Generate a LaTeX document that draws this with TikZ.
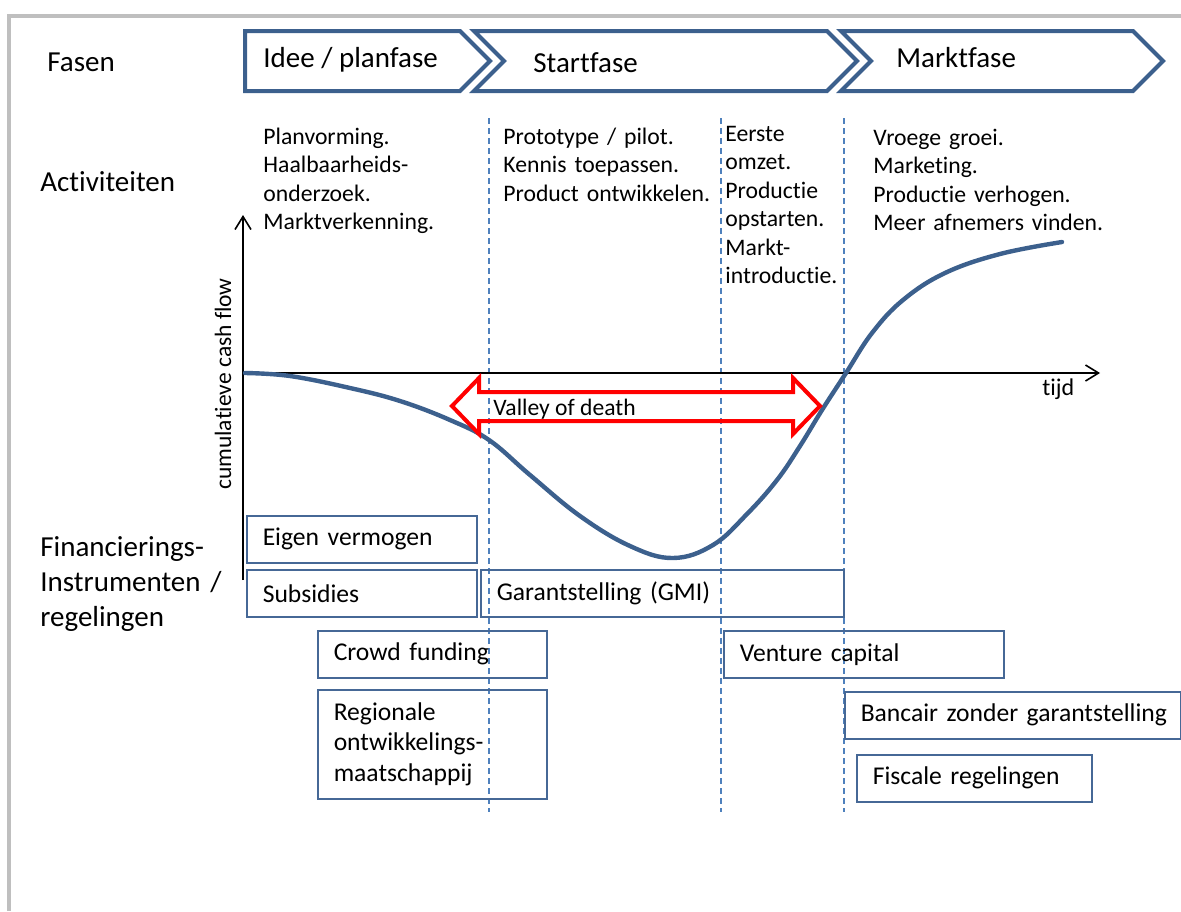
\documentclass[tikz,border=0pt]{standalone}
\usepackage{fontspec}
\setmainfont{Carlito}[Ligatures={NoCommon}]
\usetikzlibrary{arrows.meta,positioning}
\definecolor{fasblauw}{RGB}{60,96,141}
\definecolor{lijnblauw}{RGB}{79,129,189}
\definecolor{kaderblauw}{RGB}{70,104,150}
\definecolor{rand}{RGB}{191,191,191}
\tikzset{
    kop/.style={font=\fontsize{14.5}{17.5}\selectfont, anchor=base west, inner sep=0pt},
    fase/.style={draw=fasblauw, line width=2pt, line join=miter},
    actie/.style={font=\fontsize{11.85}{14.25}\selectfont, align=left, text width=130pt,
                  anchor=base west, inner sep=0pt},
    regeling/.style={draw=kaderblauw, line width=0.75pt, anchor=north west,
                     inner xsep=8pt, inner ysep=0pt, align=left, minimum height=23.5pt,
                     font=\fontsize{12.8}{15.3}\selectfont},
    grens/.style={draw=lijnblauw, line width=0.6pt, dash pattern=on 3pt off 2pt},
    as/.style={line width=0.8pt, -{Straight Barb[length=6.5pt,width=8pt]}},
    dal/.style={draw=red, line width=2pt, line join=miter},
    kromme/.style={draw=fasblauw, line width=2.2pt, line cap=round},
    }
\begin{document}
\begin{tikzpicture}[x=0.5pt,y=-0.5pt]
    \useasboundingbox (0,0) rectangle (1181,911);
    \draw[rand, line width=1.75pt] (9,911) -- (9,16) -- (1181,16);

    \draw[fase] (245,31) -- (460,31) -- (490,61) -- (460,91) -- (245,91) -- cycle;
    \draw[fase] (474,31) -- (827,31) -- (857,61) -- (827,91) -- (474,91) -- (504,61) -- cycle;
    \draw[fase] (841,31) -- (1133,31) -- (1163,61) -- (1133,91) -- (841,91) -- (871,61) -- cycle;
    \node[kop] (fasen) at (47,71) {Fasen};
    \node[kop] (idee) at (263,67) {Idee / planfase};
    \node[kop] (start) at (533,72) {Startfase};
    \node[kop] (markt) at (896,67) {Marktfase};

    \node[kop] (activiteiten) at (40,191) {Activiteiten};
    \node[actie] (plan) at (263,144) {Planvorming.\\Haalbaarheids-\\onderzoek.\\Marktverkenning.};
    \node[actie] (proto) at (503,144) {Prototype / pilot.\\Kennis toepassen.\\Product ontwikkelen.};
    \node[actie] (omzet) at (725,141) {Eerste\\omzet.\\Productie\\opstarten.\\Markt-\\introductie.};
    \node[actie] (groei) at (873,145) {Vroege groei.\\Marketing.\\Productie verhogen.\\Meer afnemers vinden.};

    \node[kop, align=left, text width=120pt] (financiering) at (40,556)
        {Financierings-\\Instrumenten /\\regelingen};

    \draw[grens] (489,118) -- (489,812);
    \draw[grens] (721,118) -- (721,812);
    \draw[grens] (844,118) -- (844,812);

    \coordinate (oorsprong) at (243,373);
    \coordinate (ytop) at (243,215);
    \coordinate (ybodem) at (243,580);
    \coordinate (xeind) at (1100,373);
    \draw[as] (ybodem) -- (ytop);
    \draw[as] (oorsprong) -- (xeind);
    \node[rotate=90, font=\fontsize{11.75}{14}\selectfont] (cashflow) at (223,384) {cumulatieve cash flow};
    \node[kop, font=\fontsize{12}{14.4}\selectfont] (tijd) at (1042,395) {tijd};

    \draw[kromme] plot[smooth, tension=0.65] coordinates {(245,373) (290,376) (350,388) (400,401)
        (450,420) (489,440) (530,475) (580,516) (630,546) (673,558) (713,545) (747,514)
        (777,480) (800,446) (822,410) (846,373) (872,333) (903,300) (945,273) (1000,254) (1062,242)};

    \draw[dal] (452,406) -- (479,378) -- (479,392) -- (793,392) -- (793,378) -- (820,406)
        -- (793,434) -- (793,421) -- (479,421) -- (479,434) -- cycle;
    \node[kop, font=\fontsize{11.8}{14.2}\selectfont] (vallei) at (493,415) {Valley of death};

    \node[regeling, text width=99pt] (eigen) at (246,515) {Eigen vermogen};
    \node[regeling, text width=99pt] (subsidies) at (246,569) {Subsidies};
    \node[regeling, text width=165.5pt] (garantie) at (480,569) {Garantstelling (GMI)};
    \node[regeling, text width=98.5pt] (crowd) at (317,630) {Crowd funding};
    \node[regeling, text width=98.5pt, minimum height=54.5pt] (rom) at (317,689)
        {Regionale\\ontwikkelings-\\maatschappij};
    \node[regeling, text width=124pt] (venture) at (723,630) {Venture capital};
    \node[regeling, text width=152pt] (bancair) at (844,691) {\mbox{Bancair zonder garantstelling}};
    \node[regeling, text width=101.5pt] (fiscaal) at (856,754) {Fiscale regelingen};
\end{tikzpicture}
\end{document}
